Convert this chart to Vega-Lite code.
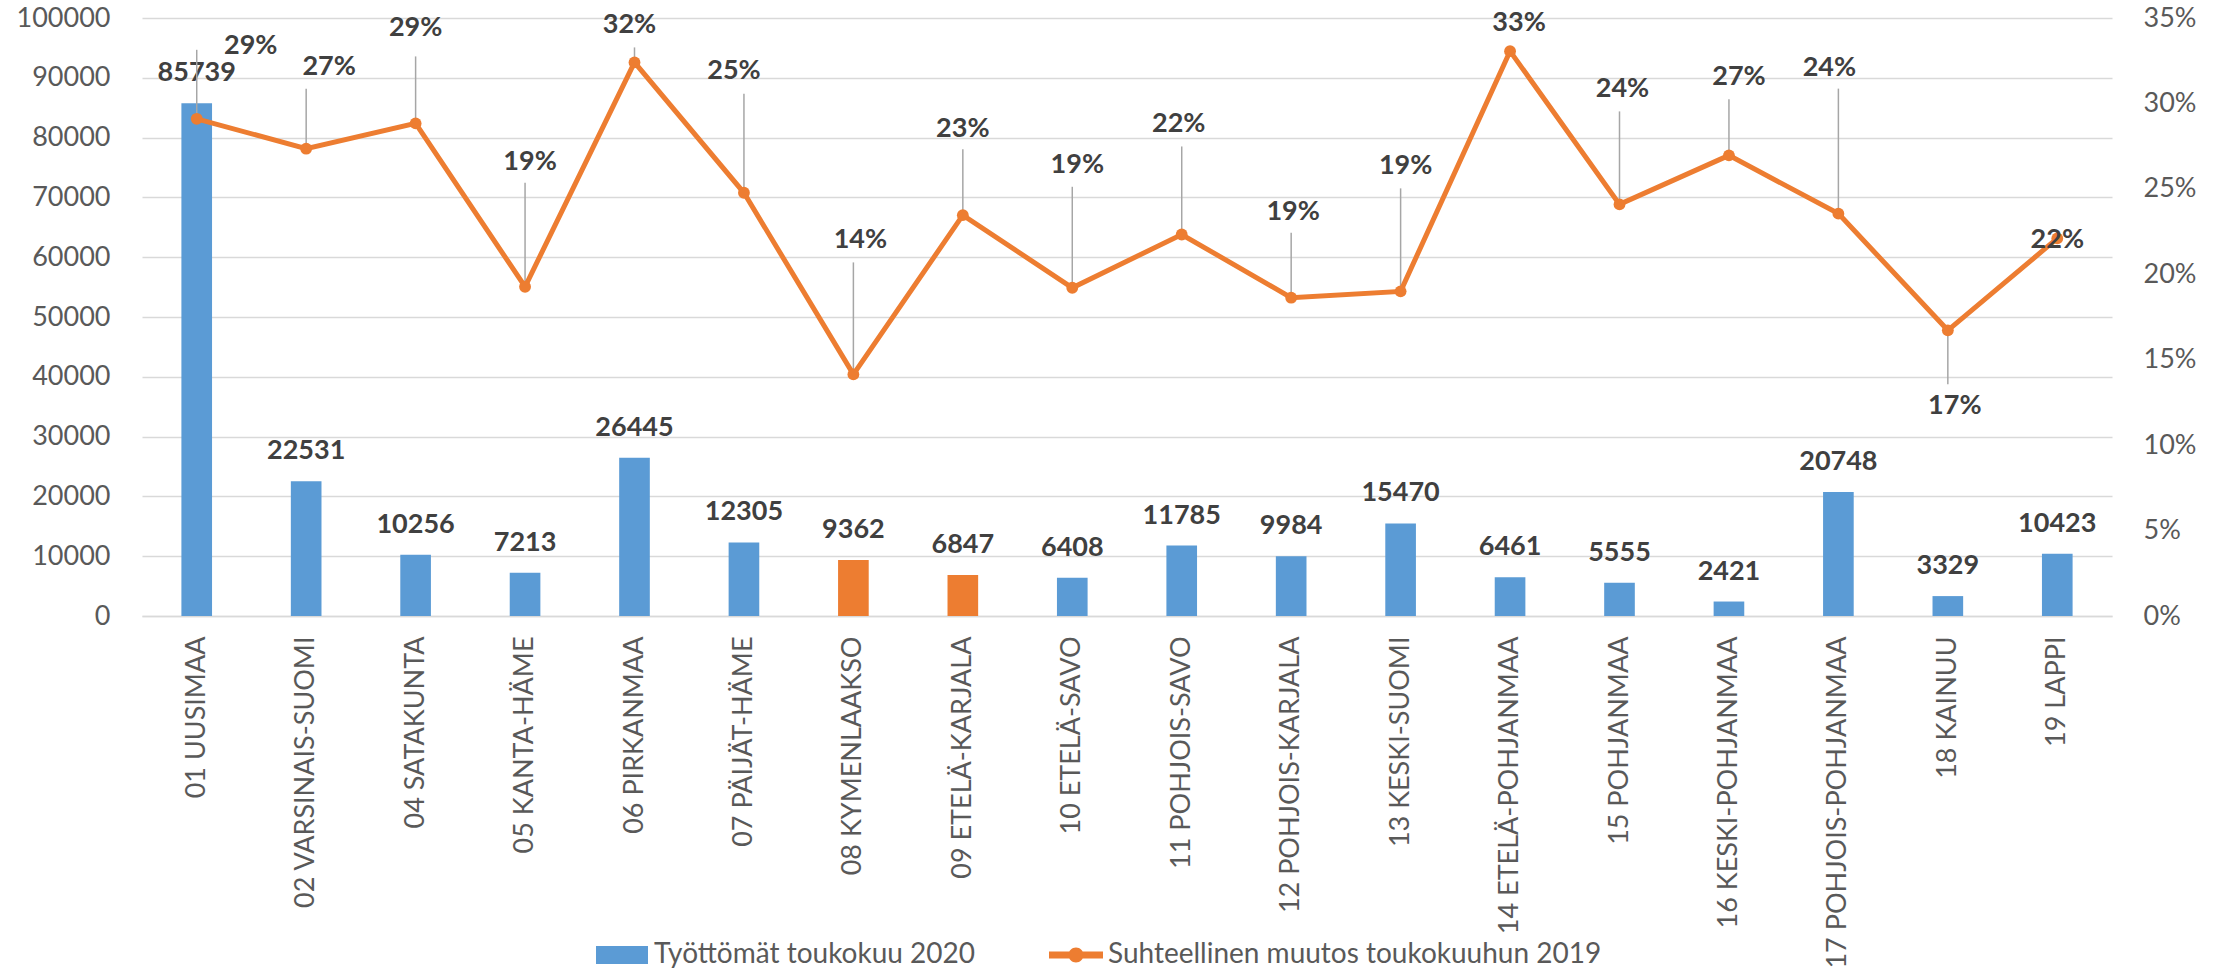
{
  "$schema": "https://vega.github.io/schema/vega-lite/v6.json",
  "autosize": {"type": "none"},
  "width": 1970,
  "height": 598,
  "padding": {"left": 142, "top": 18, "right": 112, "bottom": 355},
  "background": "white",
  "config": {
    "view": {"stroke": null},
    "font": "Lato",
    "axis": {"labelFont": "Lato", "labelColor": "#595959", "labelFontSize": 27, "ticks": false, "domain": false, "gridColor": "#D9D9D9", "gridWidth": 1.5}
  },
  "data": {
    "values": [
      {"region": "01 UUSIMAA", "value": 85739, "pct": 0.291},
      {"region": "02 VARSINAIS-SUOMI", "value": 22531, "pct": 0.2735},
      {"region": "04 SATAKUNTA", "value": 10256, "pct": 0.2883},
      {"region": "05 KANTA-HÄME", "value": 7213, "pct": 0.1927},
      {"region": "06 PIRKANMAA", "value": 26445, "pct": 0.324},
      {"region": "07 PÄIJÄT-HÄME", "value": 12305, "pct": 0.2477},
      {"region": "08 KYMENLAAKSO", "value": 9362, "pct": 0.1414},
      {"region": "09 ETELÄ-KARJALA", "value": 6847, "pct": 0.2346},
      {"region": "10 ETELÄ-SAVO", "value": 6408, "pct": 0.1921},
      {"region": "11 POHJOIS-SAVO", "value": 11785, "pct": 0.2233},
      {"region": "12 POHJOIS-KARJALA", "value": 9984, "pct": 0.1863},
      {"region": "13 KESKI-SUOMI", "value": 15470, "pct": 0.19},
      {"region": "14 ETELÄ-POHJANMAA", "value": 6461, "pct": 0.3306},
      {"region": "15 POHJANMAA", "value": 5555, "pct": 0.2409},
      {"region": "16 KESKI-POHJANMAA", "value": 2421, "pct": 0.2696},
      {"region": "17 POHJOIS-POHJANMAA", "value": 20748, "pct": 0.2355},
      {"region": "18 KAINUU", "value": 3329, "pct": 0.1672},
      {"region": "19 LAPPI", "value": 10423, "pct": 0.221}
    ]
  },
  "encoding": {
    "x": {
      "field": "region", "type": "nominal", "sort": null,
      "scale": {"paddingInner": 0.72, "paddingOuter": 0.36},
      "axis": {"title": null, "labelAngle": -90, "labelFontSize": 27, "labelPadding": 20, "domain": true, "domainColor": "#D9D9D9", "domainWidth": 1.5, "labelLimit": 400}
    }
  },
  "layer": [
    {
      "layer": [
        {
          "mark": {"type": "bar"},
          "encoding": {
            "y": {"field": "value", "type": "quantitative", "scale": {"domain": [0, 100000], "nice": false},
              "axis": {"title": null, "values": [0, 10000, 20000, 30000, 40000, 50000, 60000, 70000, 80000, 90000, 100000], "format": "d", "labelPadding": 32, "grid": true}},
            "color": {
              "condition": {"test": "datum.region === '08 KYMENLAAKSO' || datum.region === '09 ETELÄ-KARJALA'", "value": "#ED7D31"},
              "datum": "Työttömät toukokuu 2020",
              "type": "nominal",
              "scale": {"domain": ["Työttömät toukokuu 2020", "Suhteellinen muutos toukokuuhun 2019"], "range": ["#5B9BD5", "#ED7D31"]},
              "legend": {
                "title": null, "orient": "none", "direction": "horizontal", "legendX": 453, "legendY": 910,
                "labelFont": "Lato", "labelFontSize": 28, "labelColor": "#595959", "labelLimit": 1000,
                "labelOffset": 5, "columnPadding": 73, "symbolSize": 2916, "symbolStrokeWidth": 0,
                "encode": {
                  "symbols": {
                    "update": {
                      "shape": {"signal": "datum.value === 'Työttömät toukokuu 2020' ? 'M-0.963,-0.333H0.963V0.333H-0.963Z' : 'M-1,-0.13H1V0.13H-1Z M0.278,0A0.278,0.278 0 1,1 -0.278,0A0.278,0.278 0 1,1 0.278,0Z'"},
                      "fill": {"signal": "datum.value === 'Työttömät toukokuu 2020' ? '#5B9BD5' : '#ED7D31'"},
                      "opacity": {"value": 1},
                      "strokeWidth": {"value": 0}
                    }
                  }
                }
              }
            }
          }
        },
        {
          "mark": {"type": "text", "font": "Lato", "fontWeight": "bold", "fontSize": 27, "color": "#404040", "baseline": "middle", "dy": -30},
          "encoding": {
            "y": {"field": "value", "type": "quantitative"},
            "text": {"field": "value", "type": "quantitative", "format": "d"}
          }
        }
      ]
    },
    {
      "layer": [
        {
          "mark": {"type": "rule", "color": "#A6A6A6", "strokeWidth": 1.5,
            "y2Offset": {"expr": "[0,-69,-60,0,-67,-104,-15,-99,-112,-66,-101,-88,-65,-103,0,-93,-56,-125,54,0][toNumber(slice(datum.region,0,2))]"}},
          "encoding": {
            "y": {"field": "pct", "type": "quantitative"},
            "y2": {"field": "pct"}
          }
        },
        {
          "mark": {"type": "line", "color": "#ED7D31", "strokeWidth": 5},
          "encoding": {
            "y": {"field": "pct", "type": "quantitative", "scale": {"domain": [0, 0.35], "nice": false},
              "axis": {"title": null, "orient": "right", "values": [0, 0.05, 0.1, 0.15, 0.2, 0.25, 0.3, 0.35], "format": ".0%", "grid": false, "labelPadding": 31}},
            "color": {"datum": "Suhteellinen muutos toukokuuhun 2019", "type": "nominal"}
          }
        },
        {
          "mark": {"type": "point", "filled": true, "opacity": 1, "size": 140, "color": "#ED7D31"},
          "encoding": {
            "y": {"field": "pct", "type": "quantitative"}
          }
        },
        {
          "mark": {"type": "text", "font": "Lato", "fontWeight": "bold", "fontSize": 27, "color": "#404040", "baseline": "middle",
            "dx": {"expr": "[0,54,23,0,0,5,-5,-10,7,0,5,-3,2,5,9,3,10,-9,7,0][toNumber(slice(datum.region,0,2))]"},
            "dy": {"expr": "[0,-73,-82,0,-95,-125,-37,-122,-134,-86,-123,-110,-86,-125,-28,-115,-78,-146,76,2][toNumber(slice(datum.region,0,2))]"}},
          "encoding": {
            "y": {"field": "pct", "type": "quantitative"},
            "text": {"field": "pct", "type": "quantitative", "format": ".0%"}
          }
        }
      ]
    }
  ],
  "resolve": {"scale": {"y": "independent"}}
}
